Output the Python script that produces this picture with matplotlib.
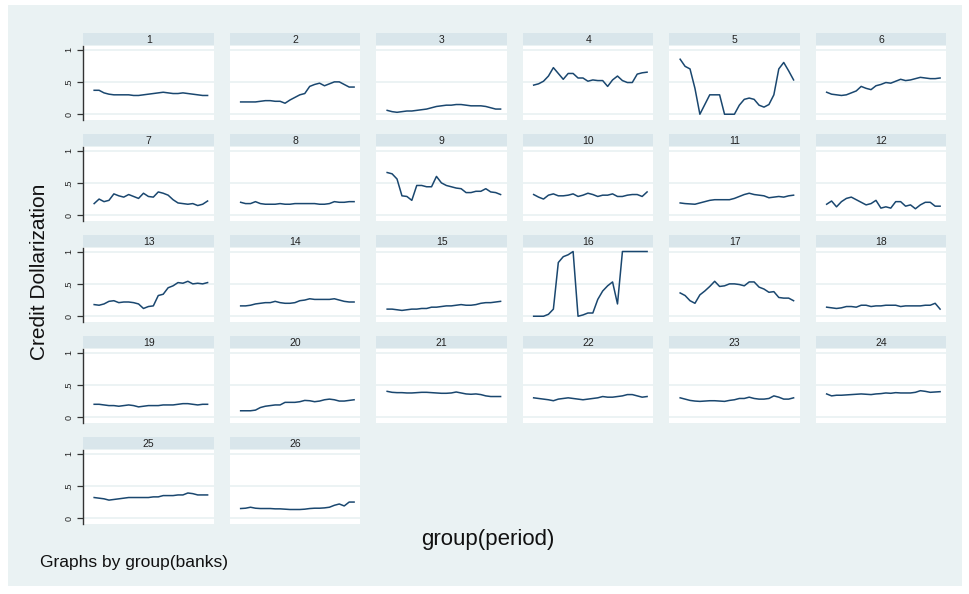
import matplotlib
matplotlib.use("Agg")
import matplotlib.pyplot as plt
from matplotlib.patches import Rectangle

plt.rcParams['font.family'] = ['Liberation Sans', 'DejaVu Sans']

# Periods 1..24 for each bank
periods = list(range(1, 25))

bank_01 = [0.37, 0.37, 0.33, 0.31, 0.30, 0.30, 0.30, 0.30, 0.29, 0.29, 0.30, 0.31,
           0.32, 0.33, 0.34, 0.33, 0.32, 0.32, 0.33, 0.32, 0.31, 0.30, 0.29, 0.29]
bank_02 = [0.19, 0.19, 0.19, 0.19, 0.20, 0.21, 0.21, 0.20, 0.20, 0.17, 0.22, 0.26,
           0.30, 0.32, 0.43, 0.46, 0.48, 0.44, 0.47, 0.50, 0.50, 0.46, 0.42, 0.42]
bank_03 = [0.06, 0.04, 0.03, 0.04, 0.05, 0.05, 0.06, 0.07, 0.08, 0.10, 0.12, 0.13,
           0.14, 0.14, 0.15, 0.15, 0.14, 0.13, 0.13, 0.13, 0.12, 0.10, 0.08, 0.08]
bank_04 = [0.45, 0.47, 0.51, 0.59, 0.72, 0.63, 0.54, 0.63, 0.63, 0.56, 0.56, 0.51,
           0.53, 0.52, 0.52, 0.43, 0.53, 0.59, 0.52, 0.49, 0.49, 0.62, 0.64, 0.65]
bank_05 = [0.85, 0.74, 0.70, 0.40, 0.00, 0.15, 0.30, 0.30, 0.30, 0.00, 0.00, 0.00,
           0.14, 0.23, 0.25, 0.23, 0.14, 0.11, 0.15, 0.30, 0.70, 0.80, 0.67, 0.53]
bank_06 = [0.34, 0.31, 0.30, 0.29, 0.30, 0.33, 0.36, 0.43, 0.40, 0.38, 0.44, 0.46,
           0.49, 0.48, 0.51, 0.54, 0.52, 0.53, 0.55, 0.57, 0.56, 0.55, 0.55, 0.56]
bank_07 = [0.18, 0.25, 0.21, 0.23, 0.33, 0.30, 0.28, 0.32, 0.29, 0.26, 0.34, 0.29,
           0.28, 0.36, 0.34, 0.31, 0.24, 0.19, 0.18, 0.17, 0.18, 0.15, 0.17, 0.22]
bank_08 = [0.20, 0.18, 0.18, 0.21, 0.18, 0.17, 0.17, 0.17, 0.18, 0.17, 0.17, 0.18,
           0.18, 0.18, 0.18, 0.18, 0.17, 0.17, 0.18, 0.21, 0.20, 0.20, 0.21, 0.21]
bank_09 = [0.66, 0.64, 0.56, 0.30, 0.29, 0.23, 0.46, 0.46, 0.44, 0.44, 0.60, 0.50,
           0.46, 0.44, 0.42, 0.41, 0.35, 0.35, 0.37, 0.37, 0.41, 0.36, 0.35, 0.32]
bank_10 = [0.32, 0.28, 0.25, 0.31, 0.33, 0.30, 0.30, 0.31, 0.33, 0.29, 0.31, 0.34,
           0.32, 0.29, 0.31, 0.31, 0.33, 0.29, 0.29, 0.31, 0.32, 0.32, 0.29, 0.36]
bank_11 = [0.19, 0.18, 0.175, 0.17, 0.19, 0.21, 0.23, 0.24, 0.24, 0.24, 0.24, 0.26,
           0.29, 0.32, 0.34, 0.32, 0.31, 0.30, 0.27, 0.28, 0.29, 0.28, 0.30, 0.31]
bank_12 = [0.17, 0.22, 0.13, 0.21, 0.26, 0.28, 0.24, 0.20, 0.16, 0.18, 0.23, 0.11,
           0.13, 0.11, 0.21, 0.21, 0.14, 0.16, 0.10, 0.16, 0.20, 0.20, 0.14, 0.14]
bank_13 = [0.18, 0.17, 0.19, 0.23, 0.24, 0.21, 0.22, 0.22, 0.21, 0.19, 0.12, 0.15,
           0.16, 0.32, 0.34, 0.44, 0.47, 0.52, 0.51, 0.54, 0.50, 0.51, 0.50, 0.52]
bank_14 = [0.16, 0.16, 0.17, 0.19, 0.20, 0.21, 0.21, 0.23, 0.21, 0.20, 0.20, 0.21,
           0.24, 0.25, 0.27, 0.26, 0.26, 0.26, 0.26, 0.27, 0.25, 0.23, 0.22, 0.22]
bank_15 = [0.11, 0.11, 0.10, 0.09, 0.10, 0.11, 0.11, 0.12, 0.12, 0.14, 0.14, 0.15,
           0.16, 0.16, 0.17, 0.18, 0.17, 0.17, 0.18, 0.20, 0.21, 0.21, 0.22, 0.23]
bank_16 = [0.00, 0.00, 0.00, 0.03, 0.11, 0.83, 0.92, 0.95, 1.00, 0.00, 0.02, 0.05,
           0.05, 0.26, 0.39, 0.47, 0.53, 0.19, 1.00, 1.00, 1.00, 1.00, 1.00, 1.00]
bank_17 = [0.36, 0.32, 0.24, 0.20, 0.33, 0.39, 0.46, 0.54, 0.46, 0.47, 0.50, 0.50,
           0.49, 0.47, 0.53, 0.53, 0.45, 0.42, 0.37, 0.38, 0.29, 0.28, 0.28, 0.24]
bank_18 = [0.14, 0.13, 0.12, 0.13, 0.15, 0.15, 0.14, 0.17, 0.17, 0.15, 0.16, 0.16,
           0.17, 0.17, 0.17, 0.15, 0.16, 0.16, 0.16, 0.16, 0.17, 0.17, 0.20, 0.11]
bank_19 = [0.20, 0.20, 0.19, 0.18, 0.18, 0.17, 0.18, 0.19, 0.18, 0.16, 0.17, 0.18,
           0.18, 0.18, 0.19, 0.19, 0.19, 0.20, 0.21, 0.21, 0.20, 0.19, 0.20, 0.20]
bank_20 = [0.10, 0.10, 0.10, 0.11, 0.15, 0.17, 0.18, 0.19, 0.19, 0.23, 0.23, 0.23,
           0.24, 0.26, 0.255, 0.24, 0.25, 0.27, 0.28, 0.27, 0.25, 0.25, 0.26, 0.27]
bank_21 = [0.40, 0.385, 0.38, 0.38, 0.375, 0.375, 0.38, 0.385, 0.385, 0.38, 0.375, 0.37,
           0.37, 0.375, 0.39, 0.375, 0.36, 0.355, 0.36, 0.35, 0.33, 0.32, 0.32, 0.32]
bank_22 = [0.30, 0.29, 0.28, 0.27, 0.255, 0.28, 0.29, 0.30, 0.29, 0.28, 0.27, 0.28,
           0.29, 0.30, 0.32, 0.31, 0.31, 0.32, 0.33, 0.35, 0.35, 0.33, 0.31, 0.32]
bank_23 = [0.30, 0.28, 0.26, 0.25, 0.245, 0.25, 0.255, 0.255, 0.25, 0.245, 0.26, 0.27,
           0.29, 0.29, 0.31, 0.29, 0.28, 0.28, 0.29, 0.33, 0.31, 0.28, 0.28, 0.30]
bank_24 = [0.36, 0.33, 0.34, 0.34, 0.345, 0.35, 0.355, 0.36, 0.355, 0.35, 0.36, 0.365,
           0.375, 0.37, 0.38, 0.375, 0.375, 0.375, 0.385, 0.41, 0.40, 0.385, 0.39, 0.395]
bank_25 = [0.32, 0.31, 0.30, 0.28, 0.29, 0.30, 0.31, 0.32, 0.32, 0.32, 0.32, 0.32,
           0.33, 0.33, 0.35, 0.35, 0.35, 0.36, 0.36, 0.39, 0.38, 0.36, 0.36, 0.36]
bank_26 = [0.15, 0.155, 0.17, 0.155, 0.15, 0.15, 0.15, 0.145, 0.145, 0.14, 0.135, 0.135,
           0.135, 0.14, 0.15, 0.155, 0.155, 0.16, 0.17, 0.20, 0.22, 0.19, 0.25, 0.25]

banks = [bank_01, bank_02, bank_03, bank_04, bank_05, bank_06, bank_07, bank_08,
         bank_09, bank_10, bank_11, bank_12, bank_13, bank_14, bank_15, bank_16,
         bank_17, bank_18, bank_19, bank_20, bank_21, bank_22, bank_23, bank_24,
         bank_25, bank_26]
bank_labels = [str(i) for i in range(1, 27)]

y_ticks = [0, 0.5, 1]
y_ticklabels = ["0", ".5", "1"]

# Stata s2color palette
BG = "#eaf2f3"
STRIP = "#d9e6eb"
LINE = "#1a476f"
GRID = "#eaf2f3"

W, H = 970, 594
fig = plt.figure(figsize=(W / 100, H / 100), dpi=100)
fig.patch.set_facecolor("white")
fig.add_artist(Rectangle((8 / W, 1 - 586 / H), (962 - 8) / W, (586 - 5) / H,
                         transform=fig.transFigure, facecolor=BG,
                         edgecolor="none", zorder=0))


def fbox(x0, y0, x1, y1):
    """Pixel box (top-left origin) to figure fraction [l, b, w, h]."""
    return [x0 / W, 1 - y1 / H, (x1 - x0) / W, (y1 - y0) / H]


ncols = 6
col_left0, col_step, col_w = 83.3, 146.5, 130.7
row_top0, row_step = 33.0, 101.0

for k, (vals, lab) in enumerate(zip(banks, bank_labels)):
    r, c = divmod(k, ncols)
    x0 = col_left0 + c * col_step
    x1 = x0 + col_w
    ht = row_top0 + r * row_step

    # title strip
    hax = fig.add_axes(fbox(x0, ht, x1, ht + 12))
    hax.set_facecolor(STRIP)
    hax.set_xticks([])
    hax.set_yticks([])
    for s in hax.spines.values():
        s.set_visible(False)
    hax.text(0.5, 0.45, lab, ha="center", va="center", fontsize=7.5,
             color="#222222", transform=hax.transAxes)

    # plot region
    ax = fig.add_axes(fbox(x0, ht + 12.5, x1, ht + 87))
    ax.set_facecolor("white")
    ax.plot(periods, vals, color=LINE, lw=1.1, solid_joinstyle="round")
    ax.set_xlim(-1.2, 25.3)
    ax.set_ylim(-0.089, 1.062)
    ax.set_yticks(y_ticks)
    for yv in y_ticks:
        ax.axhline(yv, color=GRID, lw=1.3, zorder=0)
    ax.set_xticks([])
    for s in ["top", "right", "bottom"]:
        ax.spines[s].set_visible(False)
    if c == 0:
        ax.spines["left"].set_color("#333333")
        ax.spines["left"].set_linewidth(1.0)
        ax.set_yticklabels(y_ticklabels, rotation=90, va="center",
                           fontsize=6.5, color="#222222")
        ax.tick_params(axis="y", length=4, width=0.9, color="#333333", pad=3)
    else:
        ax.spines["left"].set_visible(False)
        ax.tick_params(axis="y", length=0, labelleft=False)

fig.text(40 / W, 1 - 272 / H, "Credit Dollarization", rotation=90,
         ha="center", va="center", fontsize=15, color="#111111")
fig.text(488 / W, 1 - 540 / H, "group(period)", ha="center", va="center",
         fontsize=16, color="#111111")
fig.text(40 / W, 1 - 562 / H, "Graphs by group(banks)", ha="left",
         va="center", fontsize=12.5, color="#111111")

fig.savefig("out.png", dpi=100, facecolor=fig.get_facecolor())
